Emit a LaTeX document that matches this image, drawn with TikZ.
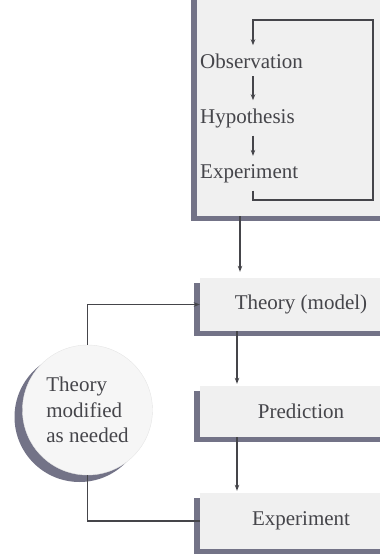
\documentclass[tikz,border=0pt]{standalone}
\usepackage{fontspec}
\setmainfont{Liberation Serif}
\usetikzlibrary{arrows.meta,shadows}
\definecolor{shadowc}{rgb}{0.45,0.45,0.53}
\definecolor{boxc}{rgb}{0.94,0.94,0.94}
\definecolor{circc}{rgb}{0.965,0.965,0.965}
\definecolor{inkc}{rgb}{0.27,0.27,0.29}
\tikzset{
  pane/.style={fill=boxc, inner sep=0pt, text=inkc,
    font=\fontsize{21}{25.5}\selectfont,
    general shadow={fill=shadowc, shadow xshift=-6pt, shadow yshift=-5pt}},
  steplabel/.style={inner xsep=0pt, inner ysep=8pt, text=inkc,
    font=\fontsize{21}{25.5}\selectfont},
  roundnote/.style={circle, fill=circc, draw=gray!20, line width=0.4pt,
    minimum size=130pt, inner sep=0pt, align=left, text=inkc,
    font=\fontsize{21}{25.5}\selectfont,
    general shadow={fill=shadowc, shadow xshift=-8pt, shadow yshift=-7pt}},
  conn/.style={draw=inkc, line width=1.1pt},
  arr/.style={conn, -{Stealth[length=6pt,width=4.5pt]}}
}
\begin{document}
\begin{tikzpicture}[x=1pt,y=-1pt]
\useasboundingbox (0,0) rectangle (380,555);
\clip (0,0) rectangle (380,555);
% boxes
\node[pane, minimum width=213pt, minimum height=226pt] (topbox) at (303.5,103) {};
\node[pane, minimum width=202pt, minimum height=53pt] (theory) at (301,304.5) {Theory (model)};
\node[pane, minimum width=202pt, minimum height=51pt] (pred) at (301,411.5) {Prediction};
\node[pane, minimum width=202pt, minimum height=56pt] (exp2) at (301,521) {Experiment};
% circle
\node[roundnote] (circ) at (87.5,410) {Theory\\modified\\as needed};
% inner loop
\node[steplabel, anchor=base west] (obs) at (200,68) {Observation};
\node[steplabel, anchor=base west] (hyp) at (200,123) {Hypothesis};
\node[steplabel, anchor=base west] (exp1) at (200,178) {Experiment};
\coordinate (loopx) at (253,0);
\coordinate (lt) at (253,20);
\coordinate (rt) at (373,20);
\coordinate (rb) at (373,200);
\coordinate (lb) at (253,200);
\draw[arr] (exp1.south -| loopx) -- (lb) -- (rb) -- (rt) -- (lt) -- (obs.north -| loopx);
\draw[arr] (obs.south -| loopx) -- (hyp.north -| loopx);
\draw[arr] (hyp.south -| loopx) -- (exp1.north -| loopx);
% main column
\coordinate (colA) at (240,0);
\coordinate (colB) at (237,0);
\draw[arr] (topbox.south -| colA) -- ([yshift=6pt]theory.north -| colA);
\draw[arr] (theory.south -| colB) -- ([yshift=2pt]pred.north -| colB);
\draw[arr] (pred.south -| colB) -- ([yshift=2pt]exp2.north -| colB);
% feedback
\draw[arr] (circ.north) |- (theory.west);
\draw[conn] (circ.south) |- (exp2.west);
\end{tikzpicture}
\end{document}
